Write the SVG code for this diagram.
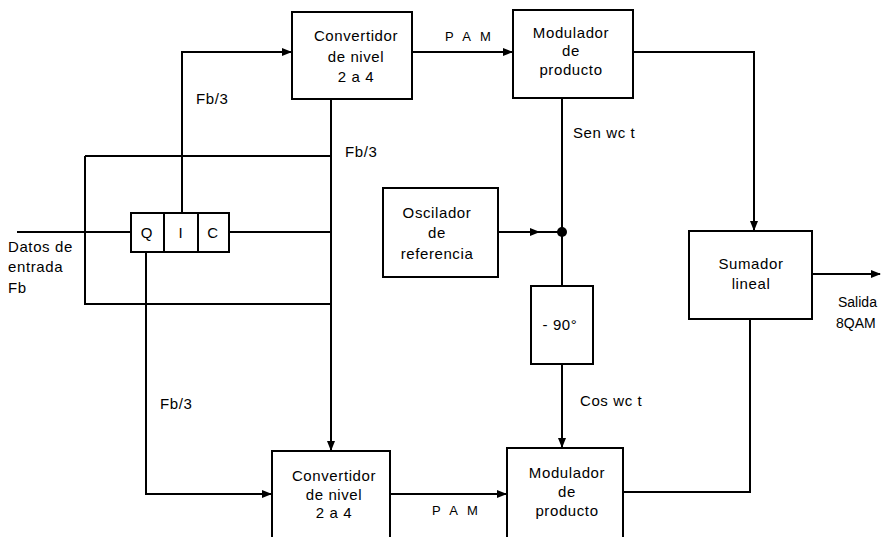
<svg xmlns="http://www.w3.org/2000/svg" width="881" height="537" viewBox="0 0 881 537">
<style>
.box{fill:#fff;stroke:#000;stroke-width:2}
.ln{fill:none;stroke:#000;stroke-width:2}
text{font-family:"Liberation Sans",Arial,sans-serif;font-size:15px;fill:#000;letter-spacing:0.6px}
.c{text-anchor:middle}
</style>
<defs>
<marker id="ar" markerUnits="userSpaceOnUse" markerWidth="10" markerHeight="10" viewBox="0 0 10 10" refX="9" refY="5" orient="auto">
<path d="M0,1 L10,5 L0,9 Z" fill="#000"/>
</marker>
</defs>
<rect width="881" height="537" fill="#fff"/>
<g id="connectors">
<path class="ln" d="M85,156 H331 M85,156 V304 H331"/>
<path class="ln" d="M17,232 H131"/>
<path class="ln" d="M182,213 V52 H291" marker-end="url(#ar)"/>
<path class="ln" d="M146,252 V494 H271" marker-end="url(#ar)"/>
<path class="ln" d="M229,232 H331"/>
<path class="ln" d="M331,99 V450" marker-end="url(#ar)"/>
<path class="ln" d="M412,52 H512" marker-end="url(#ar)"/>
<path class="ln" d="M390,494 H506" marker-end="url(#ar)"/>
<path class="ln" d="M633,52 H754 V230" marker-end="url(#ar)"/>
<path class="ln" d="M562,98 V286"/>
<path class="ln" d="M498,232 H539" marker-end="url(#ar)"/>
<path class="ln" d="M535,232 H562"/>
<circle cx="562" cy="232" r="5" fill="#000"/>
<path class="ln" d="M562,364 V447" marker-end="url(#ar)"/>
<path class="ln" d="M623,492 H750 V319"/>
<path class="ln" d="M812,274 H880" marker-end="url(#ar)"/>
</g>
<g id="labels">
<text x="8" y="252">Datos de</text>
<text x="8" y="272">entrada</text>
<text x="8" y="293">Fb</text>
<text x="196" y="104">Fb/3</text>
<text x="345" y="157">Fb/3</text>
<text x="160" y="409">Fb/3</text>
<text x="445" y="41" style="font-size:13px;letter-spacing:3px">P A M</text>
<text x="432" y="515" style="font-size:13px;letter-spacing:3px">P A M</text>
<text x="573" y="138">Sen wc t</text>
<text x="580" y="406">Cos wc t</text>
<text x="838" y="307" style="font-size:14px;letter-spacing:0">Salida</text>
<text x="836" y="328" style="font-size:14px;letter-spacing:0">8QAM</text>
</g>
<g id="reg">
<rect class="box" x="131" y="213" width="98" height="39"/>
<path class="ln" d="M164,213 V252 M198,213 V252"/>
<text x="147" y="238" class="c">Q</text>
<text x="181" y="238" class="c">I</text>
<text x="213" y="238" class="c">C</text>
</g>
<g id="conv-top">
<rect class="box" x="292" y="12" width="120" height="87"/>
<text x="356" y="41" class="c">Convertidor</text>
<text x="356" y="62" class="c">de nivel</text>
<text x="356" y="82" class="c">2 a 4</text>
</g>
<g id="mod-top">
<rect class="box" x="513" y="10" width="120" height="88"/>
<text x="571" y="38" class="c">Modulador</text>
<text x="571" y="56" class="c">de</text>
<text x="571" y="75" class="c">producto</text>
</g>
<g id="osc">
<rect class="box" x="383" y="188" width="115" height="89"/>
<text x="437" y="218" class="c">Oscilador</text>
<text x="437" y="238" class="c">de</text>
<text x="437" y="259" class="c">referencia</text>
</g>
<g id="shift90">
<rect class="box" x="531" y="286" width="62" height="78"/>
<text x="560" y="330" class="c">- 90°</text>
</g>
<g id="sumador">
<rect class="box" x="689" y="231" width="123" height="88"/>
<text x="751" y="269" class="c">Sumador</text>
<text x="751" y="289" class="c">lineal</text>
</g>
<g id="conv-bot">
<rect class="box" x="272" y="451" width="118" height="100"/>
<text x="334" y="481" class="c">Convertidor</text>
<text x="334" y="500" class="c">de nivel</text>
<text x="334" y="518" class="c">2 a 4</text>
</g>
<g id="mod-bot">
<rect class="box" x="507" y="448" width="116" height="100"/>
<text x="567" y="478" class="c">Modulador</text>
<text x="567" y="497" class="c">de</text>
<text x="567" y="516" class="c">producto</text>
</g>
</svg>
